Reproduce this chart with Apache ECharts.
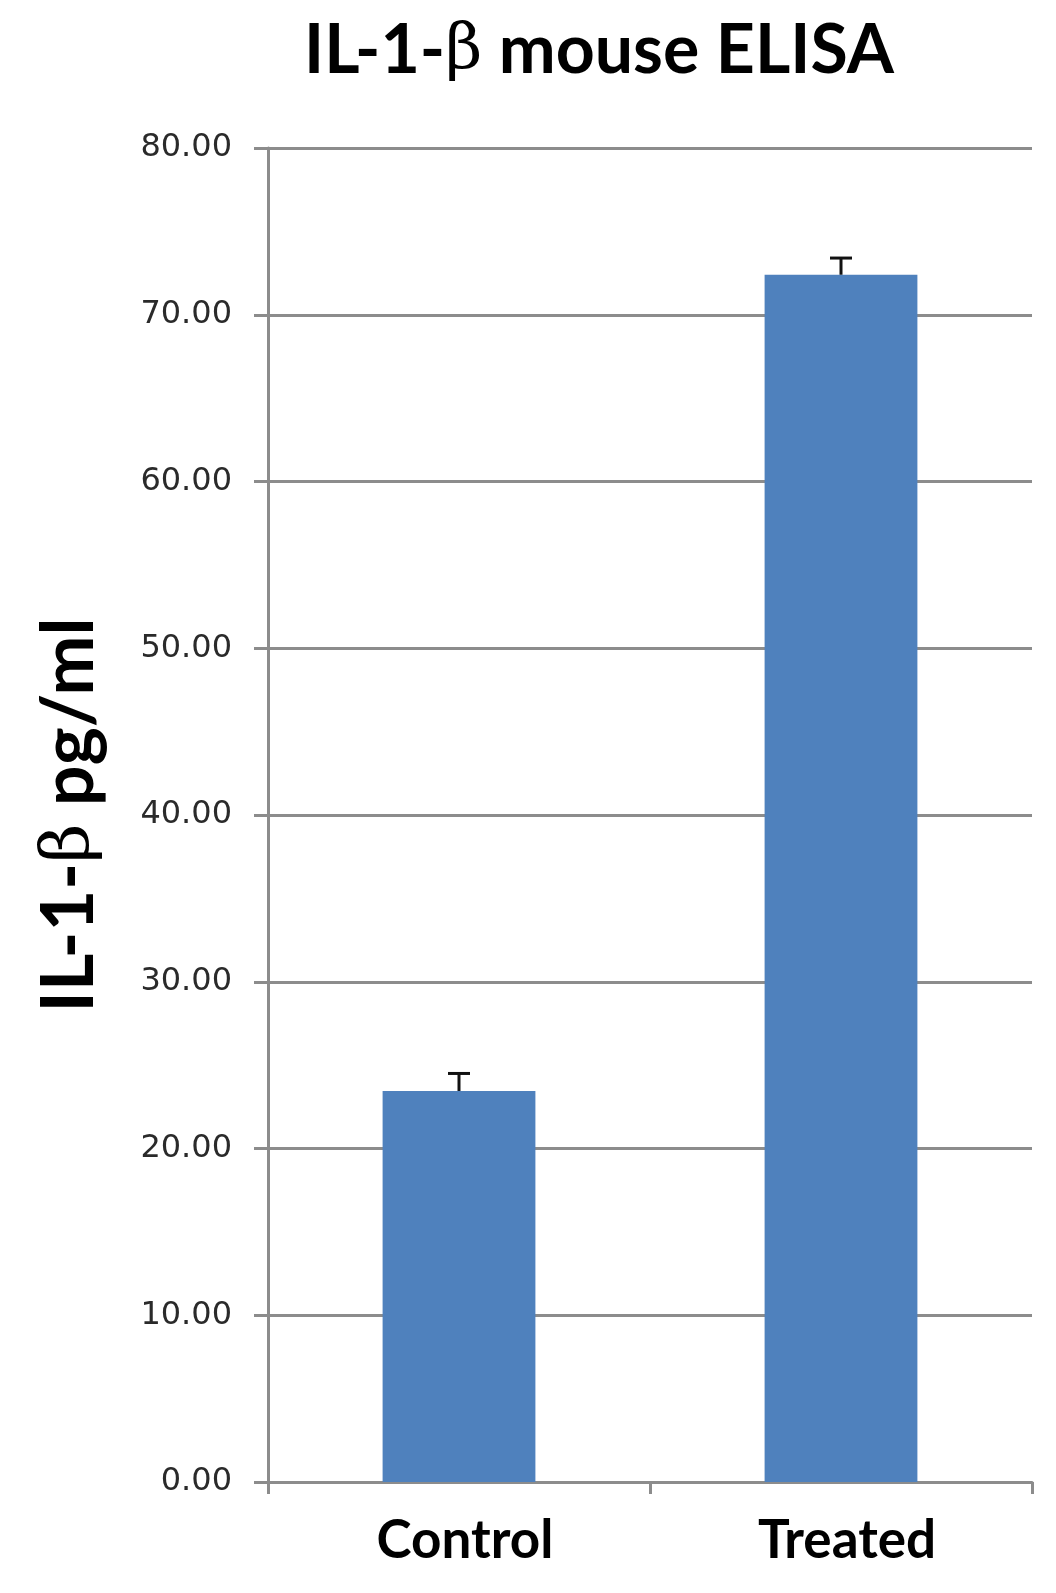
<!DOCTYPE html>
<html>
<head>
<meta charset="utf-8">
<script src="https://cdn.jsdelivr.net/npm/echarts@6/dist/echarts.min.js"></script>
<style>
html,body{margin:0;padding:0;background:#fff;}
#chart{width:1056px;height:1593px;}
</style>
</head>
<body>
<div id="chart"></div>
<script>
const categories = ['Control', 'Treated'];
const values = [23.45, 72.4];
const errors = [1.05, 1.0];
const yTicks = [0, 10, 20, 30, 40, 50, 60, 70, 80];

const chart = echarts.init(document.getElementById('chart'));
const gridColor = '#8c8c8c';

chart.setOption({
  backgroundColor: '#ffffff',
  animation: false,
  title: {
    text: '{a|IL-1-}{b|β}{a| mouse ELISA}',
    left: 594,
    textAlign: 'center',
    top: 12,
    textStyle: {
      rich: {
        a: {fontFamily: 'Lato', fontWeight: 'bold', fontSize: 68, color: '#000'},
        b: {fontFamily: 'DejaVu Serif', fontWeight: 'normal', fontSize: 64, color: '#000'}
      }
    }
  },
  grid: {left: 268, right: 24, top: 148, bottom: 111, containLabel: false},
  xAxis: {
    type: 'category',
    data: categories,
    axisLine: {lineStyle: {color: gridColor, width: 3}},
    axisTick: {show: true, length: 12, lineStyle: {color: gridColor, width: 3}},
    axisLabel: {
      margin: 32,
      padding: [0, 0, 0, 12],
      fontFamily: 'Lato', fontWeight: 'bold', fontSize: 53, color: '#000'
    }
  },
  yAxis: {
    type: 'value',
    min: 0, max: 80, interval: 10,
    name: '{a|IL-1-}{b|β}{a| pg/ml}',
    nameLocation: 'middle',
    nameGap: 162,
    nameTextStyle: {
      rich: {
        a: {fontFamily: 'Lato', fontWeight: 'bold', fontSize: 72, color: '#000'},
        b: {fontFamily: 'DejaVu Serif', fontWeight: 'normal', fontSize: 68, color: '#000'}
      }
    },
    axisLine: {show: true, lineStyle: {color: gridColor, width: 3}},
    axisTick: {show: true, length: 14, lineStyle: {color: gridColor, width: 3}},
    splitLine: {show: true, lineStyle: {color: gridColor, width: 3}},
    axisLabel: {
      margin: 36,
      fontFamily: 'DejaVu Sans', fontSize: 32, color: '#2a2a2a',
      formatter: v => yTicks.includes(v) ? v.toFixed(2) : ''
    }
  },
  series: [
    {
      type: 'bar',
      data: values,
      barWidth: '40%',
      itemStyle: {color: '#4F81BD'},
      z: 2
    },
    {
      type: 'custom',
      z: 3,
      data: values.map((v, i) => [i, v, v + errors[i]]),
      renderItem: function (params, api) {
        const base = api.coord([api.value(0), api.value(1)]);
        const top = api.coord([api.value(0), api.value(2)]);
        const half = 11;
        return {
          type: 'group',
          children: [
            {type: 'line', shape: {x1: base[0], y1: base[1], x2: top[0], y2: top[1]},
             style: {stroke: '#111', lineWidth: 3}},
            {type: 'line', shape: {x1: top[0] - half, y1: top[1], x2: top[0] + half, y2: top[1]},
             style: {stroke: '#111', lineWidth: 3}}
          ]
        };
      }
    }
  ]
});
</script>
</body>
</html>
